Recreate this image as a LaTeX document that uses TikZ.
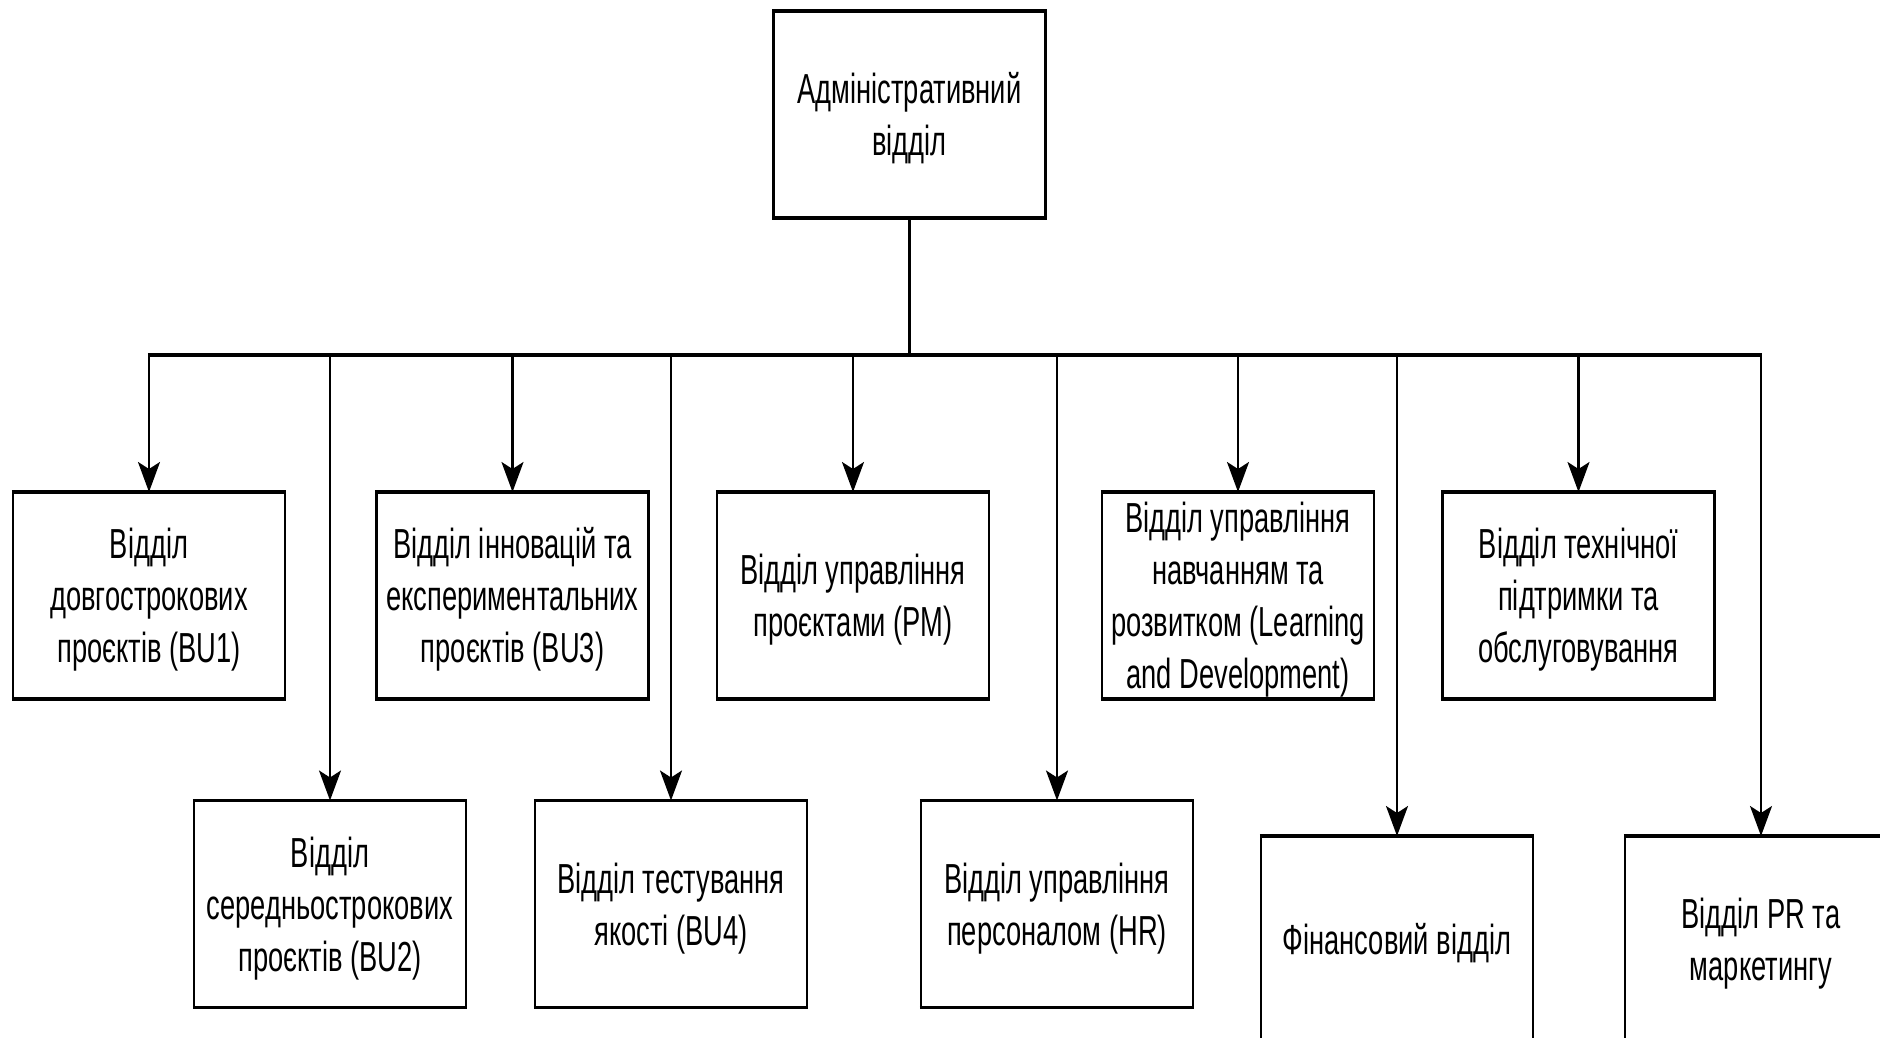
\documentclass[tikz,border=0pt]{standalone}
\usepackage{fontspec}
\usepackage{graphicx}
\setmainfont{Liberation Sans}
\usetikzlibrary{arrows.meta}

% narrow centred multi-line label of zero size, sitting a little below the box centre
\newcommand{\lbl}[1]{\raisebox{-7.5pt}[0pt][0pt]{$\vcenter{\hbox{\scalebox{0.65}[1]{\fontsize{42}{52}\selectfont\begin{tabular}{@{}c@{}}#1\end{tabular}}}}$}}

\begin{document}
\begin{tikzpicture}[x=1pt,y=-1pt,
  unit/.style={minimum width=272pt, minimum height=207pt, inner sep=0pt, outer sep=0pt},
  vedge/.style={line width=2.2pt},
  hedge/.style={line width=3.5pt},
  link/.style={line width=2.2pt, -{Stealth[length=30pt,width=22pt,inset=7pt]}},
]
\clip (0,0) rectangle (1880,1038);
\fill[white] (0,0) rectangle (1880,1038);

% units
\node[unit] (top)  at (909.5,114.5) {\lbl{Адміністративний\\відділ}};
\node[unit] (bu1)  at (149,595.5)   {\lbl{Відділ\\довгострокових\\проєктів (BU1)}};
\node[unit] (bu3)  at (512.5,595.5) {\lbl{Відділ інновацій та\\експериментальних\\проєктів (BU3)}};
\node[unit] (pm)   at (853,595.5)   {\lbl{Відділ управління\\проєктами (PM)}};
\node[unit] (ld)   at (1238,595.5)  {\lbl{Відділ управління\\навчанням та\\розвитком (Learning\\and Development)}};
\node[unit] (tech) at (1578.5,595.5){\lbl{Відділ технічної\\підтримки та\\обслуговування}};
\node[unit] (bu2)  at (330,904)     {\lbl{Відділ\\середньострокових\\проєктів (BU2)}};
\node[unit] (bu4)  at (671,904)     {\lbl{Відділ тестування\\якості (BU4)}};
\node[unit] (hr)   at (1057,904)    {\lbl{Відділ управління\\персоналом (HR)}};
\node[unit] (fin)  at (1397,939.5)  {\lbl{Фінансовий відділ}};
\node[unit] (pr)   at (1761,939.5)  {\lbl{Відділ PR та\\маркетингу}};

% box outlines: thin sides, heavier top and bottom
\foreach \n in {top,bu1,bu3,pm,ld,tech,bu2,bu4,hr,fin,pr}{
  \draw[vedge] (\n.north west) -- (\n.south west) (\n.north east) -- (\n.south east);
  \draw[hedge] ([xshift=-1.1pt]\n.north west) -- ([xshift=1.1pt]\n.north east)
               ([xshift=-1.1pt]\n.south west) -- ([xshift=1.1pt]\n.south east);
}

% distribution bus
\coordinate (busL) at (149,355);
\coordinate (busR) at (1761,355);
\draw[vedge] (top.south) -- (top.south |- busL);
\draw[hedge] ([xshift=-1.1pt]busL) -- ([xshift=1.1pt]busR);

% drops to each unit
\foreach \n in {bu1,bu2,bu3,bu4,pm,hr,ld,fin,tech,pr}{
  \draw[link] (\n.north |- busL) -- (\n.north);
}
\end{tikzpicture}
\end{document}
